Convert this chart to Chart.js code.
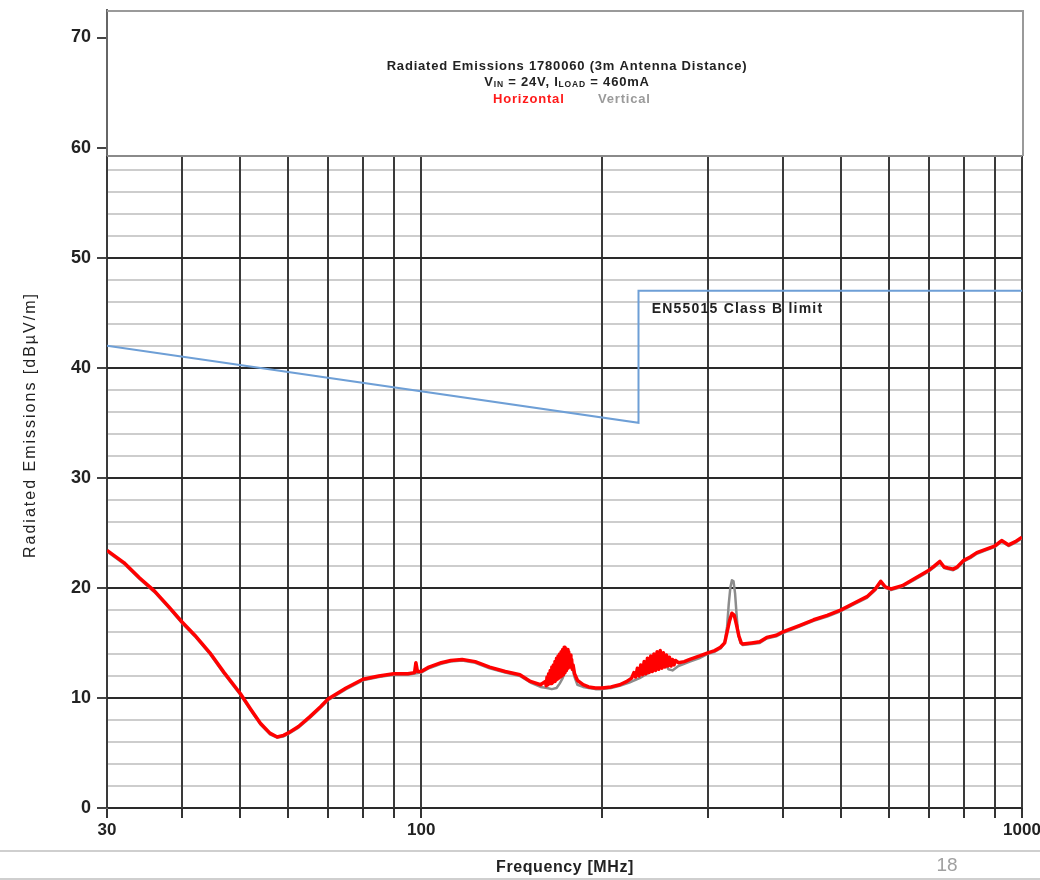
<!DOCTYPE html>
<html><head><meta charset="utf-8">
<script src="https://cdn.jsdelivr.net/npm/chart.js@4/dist/chart.umd.min.js"></script>
<style>html,body{margin:0;padding:0;background:#fff}#wrap{width:1040px;height:880px;position:relative}</style>
</head><body><div id="wrap"><canvas id="c" width="1040" height="880"></canvas></div>
<script>
const chartTitle = 'Radiated Emissions 1780060 (3m Antenna Distance)';
const xAxisTitle = 'Frequency [MHz]';
const yAxisTitle = 'Radiated Emissions [dBµV/m]';
const limitLabel = 'EN55015 Class B limit';
const slideNumber = '18';
const seriesNames = ['Horizontal', 'Vertical'];

const xGridTicks = [30,40,50,60,70,80,90,100,200,300,400,500,600,700,800,900,1000];
const xTickLabels = [30,100,1000];
const yTicks = [0,10,20,30,40,50,60,70];
const yMajorGrid = [10,20,30,40,50];
const yMinorGrid = [2,4,6,8,12,14,16,18,22,24,26,28,32,34,36,38,42,44,46,48,52,54,56,58];
const gridTop = 59.2;
const yMax = 72.5;

// Horizontal polarisation (red)
const freqH = [
  30,32,34,36,38,40,42,44.5,47,50,52,54,56,57.6,59,60,62.5,65.3,68,70,75,80,85,90,95,97.5,98,98.6,100,103,108,112,117,123,130,138,146,152,158,
  161,161.5,162,162.5,163,163.5,164,164.5,165,165.5,166,166.5,167,167.5,168,168.5,169,169.5,170,170.5,171,171.5,172,172.5,173,173.5,174,174.5,175,175.5,176,176.5,177,177.5,178,178.5,179,180,
  182,186,190,195,200,207,214,220,
  224,226,227.5,229,230.5,232,233.5,235,236.5,238,239.5,241,242.5,244,245.5,247,248.5,250,251.5,253,254.5,256,257.5,259,260.5,262,263.5,265,268,
  274,280,290,300,308,315,320,323,326,329,332,335,338,341,343,355,366,376,390,400,427,450,474,500,525,552,570,582,592,605,632,665,700,715,730,742,753,768,780,800,820,841,870,900,925,950,975,1000
];
const levelH = [
  23.4,22.3,20.9,19.7,18.3,16.9,15.7,14.1,12.3,10.4,9.0,7.7,6.8,6.45,6.6,6.8,7.4,8.3,9.2,9.9,10.9,11.7,12.0,12.2,12.2,12.3,13.2,12.4,12.4,12.8,13.2,13.4,13.5,13.3,12.8,12.4,12.1,11.5,11.2,
  11.5,11.1,11.9,11.2,12.2,11.3,12.5,11.3,12.8,11.4,13.0,11.5,13.3,11.6,13.6,11.7,13.8,11.8,14.0,11.9,14.2,12.0,14.4,12.1,14.6,12.3,14.5,12.5,14.4,12.7,14.2,12.8,13.9,12.8,13.5,12.6,13.0,12.2,
  11.6,11.2,11.0,10.9,10.9,11.0,11.2,11.5,
  11.8,12.3,11.9,12.7,12.0,13.0,12.1,13.3,12.2,13.6,12.3,13.8,12.4,14.0,12.5,14.2,12.6,14.3,12.7,14.1,12.8,13.9,12.9,13.7,12.9,13.5,13.0,13.4,13.2,
  13.3,13.5,13.8,14.1,14.3,14.6,15.0,16.0,17.0,17.7,17.5,16.6,15.6,15.0,14.9,15.0,15.1,15.5,15.7,16.0,16.6,17.1,17.5,18.0,18.6,19.2,19.9,20.6,20.1,19.9,20.2,20.9,21.6,22.0,22.4,21.9,21.8,21.7,21.9,22.5,22.8,23.2,23.5,23.8,24.3,23.9,24.2,24.6
];

// Vertical polarisation (grey)
const freqV = [30,32,34,36,38,40,42,44.5,47,50,52,54,56,57.6,59,60,62.5,65.3,68,70,75,80,85,90,95,100,103,108,112,117,123,130,138,146,152,158,162,165,168,170,172,174,176,177,178,180,182,186,190,195,200,207,214,222,231,238,244,250,254,258,262,268,274,280,290,300,308,315,320,323,325,327,329,331,333,335,337,340,343,355,366,376,390,400,427,450,474,500,525,552,570,582,592,605,632,665,700,715,730,742,753,768,780,800,820,841,870,900,925,950,975,1000];
const levelV = [23.3,22.2,20.8,19.6,18.2,16.8,15.6,14.0,12.2,10.3,8.9,7.6,6.7,6.4,6.5,6.7,7.3,8.2,9.1,9.8,10.8,11.6,11.9,12.1,12.1,12.3,12.7,13.1,13.3,13.4,13.2,12.7,12.3,12.0,11.4,11.0,10.9,10.8,10.9,11.3,11.8,12.5,13.2,13.4,13.0,11.9,11.2,11.0,10.9,10.8,10.8,10.9,11.1,11.4,11.8,12.2,12.6,13.0,13.2,12.6,12.5,12.9,13.1,13.3,13.6,14.0,14.2,14.5,15.0,16.5,18.5,20.0,20.7,20.6,19.5,17.5,15.8,15.0,14.8,14.9,15.0,15.4,15.6,15.9,16.5,17.0,17.4,17.9,18.5,19.1,19.8,20.5,20.0,19.8,20.1,20.8,21.5,21.9,22.3,21.8,21.7,21.6,21.8,22.4,22.7,23.1,23.4,23.7,24.2,23.8,24.1,24.5];

// EN55015 Class B limit
const limitFreq = [30,230,230,1000];
const limitLevel = [42,35,47,47];
const limitLabelPos = [242, 45.3];

const toPts = (xs, ys) => xs.map((x, i) => ({x, y: ys[i]}));

const FONT = "'Liberation Sans', Arial, sans-serif";

const framePlugin = {
  id: 'frame',
  beforeDatasetsDraw(chart) {
    const {ctx, chartArea: ca, scales: {x, y}} = chart;
    const yT = Math.round(y.getPixelForValue(gridTop));
    const y0 = y.getPixelForValue(0);
    ctx.save();
    ctx.lineWidth = 2;
    ctx.strokeStyle = '#cdcdcd';
    yMinorGrid.forEach(v => {
      const p = Math.round(y.getPixelForValue(v));
      ctx.beginPath(); ctx.moveTo(ca.left, p); ctx.lineTo(ca.right, p); ctx.stroke();
    });
    ctx.strokeStyle = '#3a3a3a';
    xGridTicks.forEach(v => {
      const p = Math.round(x.getPixelForValue(v));
      ctx.beginPath(); ctx.moveTo(p, yT); ctx.lineTo(p, y0); ctx.stroke();
    });
    ctx.strokeStyle = '#2a2a2a';
    yMajorGrid.forEach(v => {
      const p = Math.round(y.getPixelForValue(v));
      ctx.beginPath(); ctx.moveTo(ca.left, p); ctx.lineTo(ca.right, p); ctx.stroke();
    });
    ctx.strokeStyle = '#8a8a8a';
    ctx.beginPath(); ctx.moveTo(ca.left, yT); ctx.lineTo(ca.right, yT); ctx.stroke();
    ctx.strokeStyle = '#9a9a9a';
    ctx.beginPath(); ctx.moveTo(ca.left, ca.top + 1); ctx.lineTo(ca.right + 1, ca.top + 1); ctx.lineTo(ca.right + 1, yT); ctx.stroke();
    ctx.restore();
  },
  afterDatasetsDraw(chart) {
    const {ctx, scales: {x, y}} = chart;
    const cx = 567;
    ctx.save();
    ctx.textBaseline = 'middle';
    ctx.fillStyle = '#222';
    ctx.letterSpacing = '0.8px';
    ctx.font = 'bold 13px ' + FONT;
    ctx.textAlign = 'center';
    ctx.fillText(chartTitle, cx, 66);
    const parts = [
      ['V', false], ['IN', true], [' = 24V, ', false], ['I', false], ['LOAD', true], [' = 460mA', false]
    ];
    const fMain = 'bold 13px ' + FONT, fSub = 'bold 8.5px ' + FONT;
    let total = 0;
    parts.forEach(([t, s]) => { ctx.font = s ? fSub : fMain; total += ctx.measureText(t).width; });
    let px = cx - total / 2;
    ctx.textAlign = 'left';
    parts.forEach(([t, s]) => {
      ctx.font = s ? fSub : fMain;
      ctx.fillText(t, px, s ? 85 : 82);
      px += ctx.measureText(t).width;
    });
    ctx.font = 'bold 13px ' + FONT;
    ctx.fillStyle = '#ff1a1a';
    ctx.fillText(seriesNames[0], 493, 99);
    ctx.fillStyle = '#9a9a9a';
    ctx.fillText(seriesNames[1], 598, 99);
    ctx.fillStyle = '#222';
    ctx.font = 'bold 14px ' + FONT;
    ctx.letterSpacing = '1.2px';
    ctx.fillText(limitLabel, x.getPixelForValue(limitLabelPos[0]), y.getPixelForValue(limitLabelPos[1]));
    ctx.restore();
  },
  afterDraw(chart) {
    const {ctx} = chart;
    ctx.save();
    ctx.textBaseline = 'middle';
    ctx.textAlign = 'center';
    ctx.fillStyle = '#222';
    ctx.font = '16px ' + FONT;
    ctx.letterSpacing = '2px';
    ctx.translate(31, 425);
    ctx.rotate(-Math.PI / 2);
    ctx.fillText(yAxisTitle, 0, 0);
    ctx.setTransform(1, 0, 0, 1, 0, 0);
    ctx.letterSpacing = '0px';
    ctx.strokeStyle = '#cfcfcf';
    ctx.lineWidth = 2;
    ctx.beginPath(); ctx.moveTo(0, 851); ctx.lineTo(1040, 851); ctx.stroke();
    ctx.beginPath(); ctx.moveTo(0, 879); ctx.lineTo(1040, 879); ctx.stroke();
    ctx.fillStyle = '#222';
    ctx.font = 'bold 16px ' + FONT;
    ctx.letterSpacing = '0.6px';
    ctx.fillText(xAxisTitle, 565, 868);
    ctx.letterSpacing = '0px';
    ctx.fillStyle = '#a0a0a0';
    ctx.font = '19px ' + FONT;
    ctx.fillText(slideNumber, 947, 866);
    ctx.restore();
  }
};

new Chart(document.getElementById('c'), {
  type: 'line',
  data: {
    datasets: [
      {label: seriesNames[0], data: toPts(freqH, levelH), borderColor: '#ff0000', borderWidth: 3.5, pointRadius: 0, order: 0, borderJoinStyle: 'round'},
      {label: seriesNames[1], data: toPts(freqV, levelV), borderColor: '#8c8c8c', borderWidth: 2.5, pointRadius: 0, order: 1, borderJoinStyle: 'round'},
      {label: limitLabel, data: toPts(limitFreq, limitLevel), borderColor: '#6e9fd6', borderWidth: 2, pointRadius: 0, order: 2}
    ]
  },
  options: {
    responsive: false,
    animation: false,
    events: [],
    layout: {padding: {top: 10, right: 18, left: 0, bottom: 0}},
    plugins: {legend: {display: false}, tooltip: {enabled: false}, title: {display: false}},
    scales: {
      x: {
        type: 'logarithmic', min: 30, max: 1000,
        afterBuildTicks: s => { s.ticks = xGridTicks.map(v => ({value: v})); },
        afterFit: s => { s.height = 72; s.paddingLeft = 0; s.paddingRight = 0; },
        ticks: {
          autoSkip: false, maxRotation: 0, padding: 2, color: '#222',
          font: {family: FONT, size: 17, weight: 'bold'},
          callback: v => xTickLabels.includes(v) ? String(v) : ''
        },
        grid: {drawOnChartArea: false, drawTicks: true, tickLength: 10, color: '#333', lineWidth: 2},
        border: {display: true, color: '#2a2a2a', width: 2}
      },
      y: {
        min: 0, max: yMax,
        afterBuildTicks: s => { s.ticks = yTicks.map(v => ({value: v})); },
        afterFit: s => { s.width = 107; s.paddingTop = 0; s.paddingBottom = 0; },
        ticks: {padding: 6, color: '#222', font: {family: FONT, size: 18, weight: 'bold'}},
        grid: {drawOnChartArea: false, drawTicks: true, tickLength: 10, color: '#444', lineWidth: 2},
        border: {display: true, color: '#666', width: 2}
      }
    }
  },
  plugins: [framePlugin]
});
</script>
</body></html>
